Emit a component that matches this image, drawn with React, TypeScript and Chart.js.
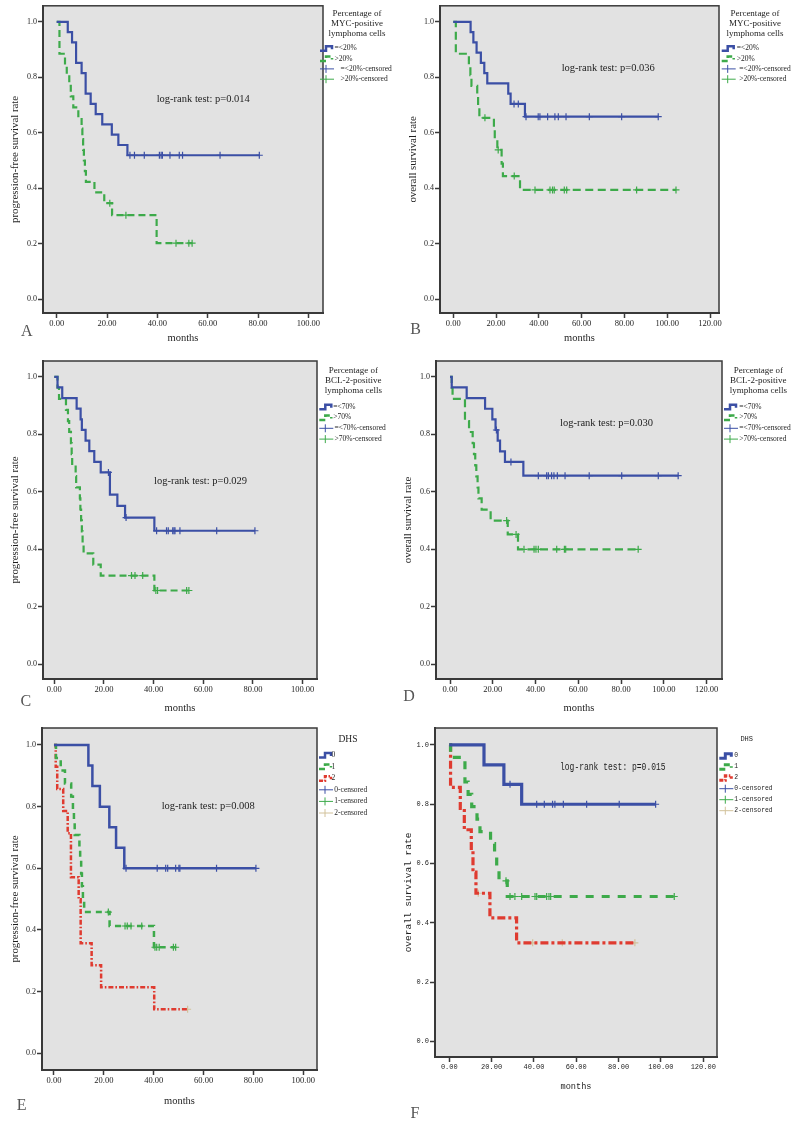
import React, { useEffect, useRef } from "react";
import { Chart, registerables } from "chart.js";

Chart.register(...registerables);

// ---------------- data ----------------
const X_TICKS_100 = [0, 20, 40, 60, 80, 100];
const X_TICKS_120 = [0, 20, 40, 60, 80, 100, 120];
const Y_TICKS = [0, 0.2, 0.4, 0.6, 0.8, 1.0];

const MYC_GROUPS = ["=<20%", ">20%"];
const BCL_GROUPS = ["=<70%", ">70%"];
const DHS_GROUPS = ["0", "1", "2"];

// A: PFS by MYC
const A_LOW_T = [4.4, 6.1, 7.7, 9.9, 11.5, 13.5, 15.5, 18.1, 21.9, 24.5, 28.1];
const A_LOW_S = [0.963, 0.926, 0.852, 0.815, 0.741, 0.704, 0.667, 0.63, 0.593, 0.556, 0.519];
const A_LOW_C = [29.1, 30.9, 34.8, 40.8, 41.5, 42.0, 45.0, 48.7, 50.0, 64.9, 80.5];
const A_HIGH_T = [1.1, 3.3, 4.0, 5.0, 5.6, 6.6, 8.6, 9.9, 10.2, 10.5, 10.8, 11.2, 11.6, 15.0, 18.9, 22.0, 39.7];
const A_HIGH_S = [0.885, 0.846, 0.808, 0.769, 0.731, 0.692, 0.654, 0.615, 0.577, 0.538, 0.5, 0.462, 0.423, 0.385, 0.346, 0.303, 0.202];
const A_HIGH_C = [21.1, 27.5, 47.4, 52.5, 53.8];

// B: OS by MYC
const B_LOW_T = [8.1, 9.4, 10.9, 12.9, 14.5, 15.9, 25.7, 26.8, 33.5];
const B_LOW_S = [0.963, 0.926, 0.889, 0.852, 0.815, 0.778, 0.741, 0.704, 0.658];
const B_LOW_C = [28.4, 30.4, 34.0, 39.7, 40.5, 44.1, 47.5, 49.1, 52.7, 63.6, 78.7, 95.8];
const B_HIGH_T = [1.2, 7.3, 8.0, 8.5, 11.2, 11.6, 12.2, 19.0, 19.4, 20.6, 22.6, 23.2, 31.2];
const B_HIGH_S = [0.885, 0.846, 0.808, 0.769, 0.731, 0.692, 0.654, 0.615, 0.577, 0.538, 0.489, 0.444, 0.394];
const B_HIGH_C = [14.8, 21.0, 28.5, 38.2, 45.2, 46.4, 47.2, 51.9, 53.0, 85.7, 104.1];

// C: PFS by BCL-2
const C_LOW_T = [1.3, 3.2, 9.0, 10.6, 11.1, 12.6, 14.1, 16.1, 18.7, 22.4, 25.4, 28.5, 40.3];
const C_LOW_S = [0.963, 0.926, 0.889, 0.852, 0.815, 0.778, 0.741, 0.704, 0.667, 0.59, 0.551, 0.51, 0.464];
const C_LOW_C = [21.8, 28.9, 41.2, 45.2, 45.9, 47.7, 48.2, 48.6, 50.6, 65.4, 80.8];
const C_HIGH_T = [1.3, 1.9, 4.7, 5.5, 6.0, 6.7, 7.0, 7.2, 8.6, 8.8, 10.3, 10.5, 10.8, 11.1, 11.4, 11.8, 15.7, 18.7, 40.3];
const C_HIGH_S = [0.962, 0.923, 0.885, 0.846, 0.808, 0.769, 0.731, 0.692, 0.654, 0.615, 0.577, 0.538, 0.5, 0.462, 0.423, 0.385, 0.346, 0.308, 0.256];
const C_HIGH_C = [31.1, 32.5, 35.6, 40.9, 41.6, 53.3, 54.2];

// D: OS by BCL-2
const D_LOW_T = [0.8, 7.8, 16.4, 19.8, 21.3, 22.3, 23.4, 25.7, 34.3];
const D_LOW_S = [0.963, 0.926, 0.889, 0.852, 0.815, 0.778, 0.741, 0.704, 0.656];
const D_LOW_C = [21.7, 28.5, 41.3, 45.2, 46.0, 47.5, 48.6, 50.2, 53.8, 65.1, 80.3, 97.4, 106.7];
const D_HIGH_T = [0.8, 1.2, 7.0, 8.9, 10.6, 11.2, 11.8, 12.3, 12.9, 13.3, 14.8, 19.0, 27.0, 31.8];
const D_HIGH_S = [0.962, 0.923, 0.846, 0.808, 0.769, 0.731, 0.692, 0.654, 0.615, 0.577, 0.538, 0.5, 0.452, 0.4];
const D_HIGH_C = [26.5, 30.9, 34.6, 39.3, 40.2, 41.3, 49.9, 53.5, 54.1, 88.0];

// E: PFS by DHS
const E0_T = [13.8, 15.4, 18.4, 22.2, 24.9, 28.2];
const E0_S = [0.933, 0.867, 0.8, 0.733, 0.667, 0.6];
const E0_C = [28.9, 41.4, 44.8, 45.6, 48.8, 50.1, 50.5, 65.2, 81.0];
const E1_T = [0.8, 2.7, 4.4, 6.9, 7.6, 8.0, 8.3, 10.2, 10.5, 10.9, 11.2, 11.6, 12.1, 22.3, 40.1];
const E1_S = [0.958, 0.917, 0.875, 0.833, 0.792, 0.75, 0.708, 0.667, 0.625, 0.583, 0.542, 0.5, 0.458, 0.413, 0.344];
const E1_C = [21.8, 28.5, 29.4, 30.9, 35.2, 40.5, 41.2, 42.2, 47.9, 48.8];
const E2_T = [0.7, 1.3, 3.7, 5.5, 6.8, 9.9, 10.7, 15.1, 18.9, 40.2];
const E2_S = [0.929, 0.857, 0.786, 0.714, 0.571, 0.5, 0.357, 0.286, 0.214, 0.143];
const E2_C = [53.6];

// F: OS by DHS
const F0_T = [16.4, 25.8, 34.2];
const F0_S = [0.933, 0.867, 0.8];
const F0_C = [28.7, 41.3, 44.9, 48.8, 49.9, 53.9, 64.9, 80.3, 97.5];
const F1_T = [0.6, 7.4, 8.9, 10.6, 13.1, 14.5, 19.5, 21.4, 22.4, 23.5, 27.4];
const F1_S = [0.958, 0.875, 0.833, 0.792, 0.75, 0.708, 0.667, 0.625, 0.583, 0.542, 0.489];
const F1_C = [26.8, 28.7, 31.0, 34.2, 40.5, 41.3, 46.0, 47.1, 47.9, 106.3];
const F2_T = [0.6, 5.2, 7.1, 10.4, 11.2, 12.6, 19.2, 31.8];
const F2_S = [0.857, 0.786, 0.714, 0.643, 0.571, 0.5, 0.417, 0.333];
const F2_C = [13.7, 39.4, 53.4, 87.7];

// ---------------- styles ----------------
const SERIF = '"Liberation Serif", "Times New Roman", Times, serif';
const MONO = '"Liberation Mono", "DejaVu Sans Mono", monospace';
const TEXT = "#1e1e1e";
const BLUE = "#3b4fa5";
const GREEN = "#3daa4a";
const RED = "#df3b30";
const TAN = "#d2c29b";
const PANEL_BG = "#e2e2e2";
const FRAME = "#3a3a3a";

type Series = {
  label: string;
  t: number[];
  s: number[];
  c: number[];
  color: string;
  censColor: string;
  dash: number[];
  legendDash: number[];
};

type Panel = {
  key: string;
  left: number; top: number; width: number; height: number;
  box: [number, number, number, number];
  xMin: number; xMax: number; yMin: number; yMax: number;
  xTicks: number[];
  yTitle: string; yTitleX: number; monthsY: number;
  letter: string; letterX: number; letterY: number;
  logRank: string; lrX: number; lrY: number;
  legendTitle: string[]; ltCx: number; ltY0: number; ltDy: number;
  symX: number; textX: number; censTextX: number; rowY0: number; rowDy: number;
  mono: boolean;
  lineWidth: number;
  series: Series[];
};

const mk = (label: string, t: number[], s: number[], c: number[], color: string, censColor: string, dash: number[], legendDash: number[]): Series =>
  ({ label, t, s, c, color, censColor, dash, legendDash });

const PANELS: Panel[] = [
  {
    key: "A", left: 0, top: 0, width: 400, height: 350,
    box: [43, 2, 323, 313], xMin: -5.44, xMax: 105.8, yMin: -0.05, yMax: 1.058, xTicks: X_TICKS_100,
    yTitle: "progression-free survival rate", yTitleX: 15, monthsY: 338,
    letter: "A", letterX: 26.7, letterY: 331.7,
    logRank: "log-rank test: p=0.014", lrX: 156.7, lrY: 99.3,
    legendTitle: ["Percentage of", "MYC-positive", "lymphoma cells"], ltCx: 357, ltY0: 13.7, ltDy: 9.8,
    symX: 320, textX: 334.5, censTextX: 340.5, rowY0: 48.3, rowDy: 10.3,
    mono: false, lineWidth: 2.2,
    series: [
      mk(MYC_GROUPS[0], A_LOW_T, A_LOW_S, A_LOW_C, BLUE, BLUE, [], []),
      mk(MYC_GROUPS[1], A_HIGH_T, A_HIGH_S, A_HIGH_C, GREEN, GREEN, [7, 4], [6, 3]),
    ],
  },
  {
    key: "B", left: 400, top: 0, width: 396, height: 350,
    box: [440, 2, 719, 313], xMin: -6.2, xMax: 124.2, yMin: -0.05, yMax: 1.058, xTicks: X_TICKS_120,
    yTitle: "overall survival rate", yTitleX: 413, monthsY: 338,
    letter: "B", letterX: 415.7, letterY: 330,
    logRank: "log-rank test: p=0.036", lrX: 561.7, lrY: 68.3,
    legendTitle: ["Percentage of", "MYC-positive", "lymphoma cells"], ltCx: 755, ltY0: 13.7, ltDy: 9.8,
    symX: 721.7, textX: 736.7, censTextX: 739.3, rowY0: 48.3, rowDy: 10.3,
    mono: false, lineWidth: 2.2,
    series: [
      mk(MYC_GROUPS[0], B_LOW_T, B_LOW_S, B_LOW_C, BLUE, BLUE, [], []),
      mk(MYC_GROUPS[1], B_HIGH_T, B_HIGH_S, B_HIGH_C, GREEN, GREEN, [8, 4.5], [6, 3]),
    ],
  },
  {
    key: "C", left: 0, top: 355, width: 400, height: 365,
    box: [43, 361, 317, 679], xMin: -4.55, xMax: 105.8, yMin: -0.052, yMax: 1.055, xTicks: X_TICKS_100,
    yTitle: "progression-free survival rate", yTitleX: 15, monthsY: 708.3,
    letter: "C", letterX: 25.8, letterY: 701.7,
    logRank: "log-rank test: p=0.029", lrX: 154, lrY: 481.7,
    legendTitle: ["Percentage of", "BCL-2-positive", "lymphoma cells"], ltCx: 353.3, ltY0: 371, ltDy: 10,
    symX: 319.3, textX: 333.3, censTextX: 334.5, rowY0: 406.7, rowDy: 10.8,
    mono: false, lineWidth: 2.2,
    series: [
      mk(BCL_GROUPS[0], C_LOW_T, C_LOW_S, C_LOW_C, BLUE, BLUE, [], []),
      mk(BCL_GROUPS[1], C_HIGH_T, C_HIGH_S, C_HIGH_C, GREEN, GREEN, [7, 4], [6, 3]),
    ],
  },
  {
    key: "D", left: 400, top: 355, width: 396, height: 365,
    box: [436, 361, 722, 679], xMin: -6.55, xMax: 127.2, yMin: -0.051, yMax: 1.055, xTicks: X_TICKS_120,
    yTitle: "overall survival rate", yTitleX: 408, monthsY: 708.3,
    letter: "D", letterX: 409, letterY: 696.7,
    logRank: "log-rank test: p=0.030", lrX: 560, lrY: 423.3,
    legendTitle: ["Percentage of", "BCL-2-positive", "lymphoma cells"], ltCx: 758.3, ltY0: 371, ltDy: 10,
    symX: 724, textX: 739.3, censTextX: 739.3, rowY0: 406.7, rowDy: 10.8,
    mono: false, lineWidth: 2.2,
    series: [
      mk(BCL_GROUPS[0], D_LOW_T, D_LOW_S, D_LOW_C, BLUE, BLUE, [], []),
      mk(BCL_GROUPS[1], D_HIGH_T, D_HIGH_S, D_HIGH_C, GREEN, GREEN, [8, 4.5], [6, 3]),
    ],
  },
  {
    key: "E", left: 0, top: 722, width: 400, height: 400,
    box: [42, 728, 317, 1070], xMin: -4.81, xMax: 105.5, yMin: -0.054, yMax: 1.055, xTicks: X_TICKS_100,
    yTitle: "progression-free survival rate", yTitleX: 15, monthsY: 1101,
    letter: "E", letterX: 21.7, letterY: 1105.5,
    logRank: "log-rank test: p=0.008", lrX: 161.7, lrY: 806.7,
    legendTitle: ["DHS"], ltCx: 348, ltY0: 739.3, ltDy: 10,
    symX: 319, textX: 331.5, censTextX: 334.3, rowY0: 755, rowDy: 11.6,
    mono: false, lineWidth: 2.5,
    series: [
      mk(DHS_GROUPS[0], E0_T, E0_S, E0_C, BLUE, BLUE, [], []),
      mk(DHS_GROUPS[1], E1_T, E1_S, E1_C, GREEN, GREEN, [6, 5], [6, 3]),
      mk(DHS_GROUPS[2], E2_T, E2_S, E2_C, RED, TAN, [5, 2, 1.6, 2], [4, 1.5, 1.5, 1.5]),
    ],
  },
  {
    key: "F", left: 400, top: 722, width: 396, height: 400,
    box: [435, 728, 717, 1057], xMin: -6.75, xMax: 126.5, yMin: -0.052, yMax: 1.057, xTicks: X_TICKS_120,
    yTitle: "overall survival rate", yTitleX: 408, monthsY: 1087,
    letter: "F", letterX: 415, letterY: 1113.5,
    logRank: "log-rank test: p=0.015", lrX: 560, lrY: 767.7,
    legendTitle: ["DHS"], ltCx: 746.7, ltY0: 739.3, ltDy: 10,
    symX: 719.3, textX: 734.3, censTextX: 734.3, rowY0: 755.7, rowDy: 11,
    mono: true, lineWidth: 3.2,
    series: [
      mk(DHS_GROUPS[0], F0_T, F0_S, F0_C, BLUE, BLUE, [], []),
      mk(DHS_GROUPS[1], F1_T, F1_S, F1_C, GREEN, GREEN, [8, 8], [6, 3]),
      mk(DHS_GROUPS[2], F2_T, F2_S, F2_C, RED, TAN, [8, 3, 3, 3], [4, 1.5, 1.5, 1.5]),
    ],
  },
];

// ---------------- helpers ----------------
function survAt(t: number[], s: number[], time: number): number {
  let v = 1;
  for (let i = 0; i < t.length; i++) if (t[i] <= time) v = s[i];
  return v;
}

function stepPoints(se: Series) {
  const end = Math.max(se.t[se.t.length - 1], ...se.c);
  const pts = [{ x: 0, y: 1 }];
  se.t.forEach((ti, i) => pts.push({ x: ti, y: se.s[i] }));
  pts.push({ x: end, y: se.s[se.s.length - 1] });
  return pts;
}

function decoPlugin(p: Panel) {
  const font = p.mono ? MONO : SERIF;
  return {
    id: "kmDeco" + p.key,
    beforeDraw(chart: any) {
      const { ctx, chartArea: a } = chart;
      ctx.save();
      ctx.fillStyle = PANEL_BG;
      ctx.fillRect(a.left, a.top, a.right - a.left, a.bottom - a.top);
      ctx.restore();
    },
    beforeDatasetsDraw(chart: any) {
      const { ctx, chartArea: a } = chart;
      ctx.save();
      ctx.strokeStyle = FRAME;
      ctx.lineWidth = 1.5;
      ctx.strokeRect(a.left, a.top, a.right - a.left, a.bottom - a.top);
      ctx.restore();
    },
    afterDraw(chart: any) {
      const ctx: CanvasRenderingContext2D = chart.ctx;
      const ox = p.left, oy = p.top;
      ctx.save();
      // panel letter
      ctx.fillStyle = "#555";
      ctx.font = `16px ${SERIF}`;
      ctx.textAlign = "center";
      ctx.textBaseline = "middle";
      ctx.fillText(p.letter, p.letterX - ox, p.letterY - oy);

      // log-rank annotation
      ctx.fillStyle = TEXT;
      ctx.textAlign = "left";
      if (p.mono) {
        ctx.save();
        ctx.translate(p.lrX - ox, p.lrY - oy);
        ctx.scale(0.8, 1);
        ctx.font = `10px ${MONO}`;
        ctx.fillText(p.logRank, 0, 0);
        ctx.restore();
      } else {
        ctx.font = `10.5px ${SERIF}`;
        ctx.fillText(p.logRank, p.lrX - ox, p.lrY - oy);
      }

      // legend title
      ctx.textAlign = "center";
      ctx.font = p.mono ? `7px ${MONO}` : `${p.legendTitle.length === 1 ? 9.5 : 9}px ${SERIF}`;
      p.legendTitle.forEach((ln, i) => ctx.fillText(ln, p.ltCx - ox, p.ltY0 + i * p.ltDy - oy));

      // legend rows
      ctx.textAlign = "left";
      ctx.font = p.mono ? `6.4px ${MONO}` : `7.5px ${SERIF}`;
      let row = 0;
      p.series.forEach((se) => {
        const y = p.rowY0 + row * p.rowDy - oy;
        const x = p.symX - ox;
        ctx.save();
        ctx.strokeStyle = se.color;
        ctx.lineWidth = p.mono ? 3 : 2.5;
        ctx.setLineDash(se.legendDash);
        ctx.beginPath();
        ctx.moveTo(x, y + 2.5);
        ctx.lineTo(x + 6, y + 2.5);
        ctx.lineTo(x + 6, y - 2);
        ctx.lineTo(x + 12, y - 2);
        ctx.lineTo(x + 12, y + 1);
        ctx.stroke();
        ctx.restore();
        ctx.fillStyle = TEXT;
        ctx.fillText(se.label, p.textX - ox, y);
        row++;
      });
      p.series.forEach((se) => {
        const y = p.rowY0 + row * p.rowDy - oy;
        const x = p.symX - ox;
        ctx.save();
        ctx.strokeStyle = se.censColor;
        ctx.lineWidth = 1;
        ctx.beginPath();
        ctx.moveTo(x, y);
        ctx.lineTo(x + 14, y);
        ctx.moveTo(x + 6, y - 4);
        ctx.lineTo(x + 6, y + 4);
        ctx.stroke();
        ctx.restore();
        ctx.fillStyle = TEXT;
        ctx.fillText(se.label + "-censored", p.censTextX - ox, y);
        row++;
      });
      ctx.restore();
    },
  };
}

function KMPanel({ p }: { p: Panel }) {
  const ref = useRef<HTMLCanvasElement>(null);
  useEffect(() => {
    const canvas = ref.current;
    if (!canvas) return;
    const font = p.mono ? MONO : SERIF;
    const xTickSize = p.mono ? 7 : 8.5;
    const yTickSize = p.mono ? 7 : 8;
    const yTitleSize = p.mono ? 9.5 : 10.8;
    const monthsSize = p.mono ? 8.6 : 10.5;
    const yAxisW = p.box[0] - p.left;
    const xAxisH = p.monthsY + (monthsSize * 1.2) / 2 - p.box[3];
    const padBottom = p.top + p.height - (p.box[3] + xAxisH);
    const yTitlePad = p.yTitleX - p.left - (yTitleSize * 1.2) / 2;

    const datasets: any[] = [];
    p.series.forEach((se) => {
      datasets.push({
        type: "line",
        label: se.label,
        data: stepPoints(se),
        stepped: "before",
        borderColor: se.color,
        backgroundColor: se.color,
        borderWidth: p.lineWidth,
        borderDash: se.dash,
        pointRadius: 0,
        fill: false,
        tension: 0,
      });
    });
    p.series.forEach((se) => {
      datasets.push({
        type: "line",
        label: se.label + "-censored",
        data: se.c.map((x) => ({ x, y: survAt(se.t, se.s, x) })),
        showLine: false,
        pointStyle: "cross",
        pointRadius: 3.5,
        pointBorderWidth: 1.2,
        borderColor: se.censColor,
        backgroundColor: se.censColor,
      });
    });

    const chart = new Chart(canvas, {
      type: "line",
      data: { datasets },
      options: {
        animation: false,
        responsive: false,
        devicePixelRatio: 1,
        layout: {
          padding: {
            left: 0,
            top: p.box[1] - p.top,
            right: p.left + p.width - p.box[2],
            bottom: padBottom,
          },
        },
        plugins: { legend: { display: false }, tooltip: { enabled: false } },
        scales: {
          x: {
            type: "linear",
            min: p.xMin,
            max: p.xMax,
            afterBuildTicks: (ax: any) => {
              ax.ticks = p.xTicks.map((v) => ({ value: v }));
            },
            afterFit: (s: any) => {
              s.height = xAxisH;
            },
            ticks: {
              autoSkip: false,
              maxRotation: 0,
              padding: 1,
              color: TEXT,
              font: { family: font, size: xTickSize },
              callback: (v: any) => Number(v).toFixed(2),
            },
            grid: { drawOnChartArea: false, drawTicks: true, tickLength: 5, tickColor: FRAME, tickWidth: 1.5 },
            border: { display: true, color: FRAME, width: 2 },
            title: {
              display: true,
              text: "months",
              color: TEXT,
              font: { family: font, size: monthsSize },
              padding: { top: 0, bottom: 0 },
            },
          },
          y: {
            type: "linear",
            min: p.yMin,
            max: p.yMax,
            afterBuildTicks: (ax: any) => {
              ax.ticks = Y_TICKS.map((v) => ({ value: v }));
            },
            afterFit: (s: any) => {
              s.width = yAxisW;
            },
            ticks: {
              autoSkip: false,
              padding: 1,
              color: TEXT,
              font: { family: font, size: yTickSize },
              callback: (v: any) => Number(v).toFixed(1),
            },
            grid: { drawOnChartArea: false, drawTicks: true, tickLength: 5, tickColor: FRAME, tickWidth: 1.5 },
            border: { display: true, color: FRAME, width: 2 },
            title: {
              display: true,
              text: p.yTitle,
              color: TEXT,
              font: { family: font, size: yTitleSize },
              padding: { top: yTitlePad, bottom: 0 },
            },
          },
        },
      } as any,
      plugins: [decoPlugin(p) as any],
    });
    return () => chart.destroy();
  }, [p]);
  return (
    <canvas
      ref={ref}
      width={p.width}
      height={p.height}
      style={{ position: "absolute", left: p.left, top: p.top, width: p.width, height: p.height }}
    />
  );
}

export default function App() {
  return (
    <div style={{ position: "absolute", left: 0, top: 0, width: 796, height: 1122, background: "#fff" }}>
      {PANELS.map((p) => (
        <KMPanel key={p.key} p={p} />
      ))}
    </div>
  );
}
